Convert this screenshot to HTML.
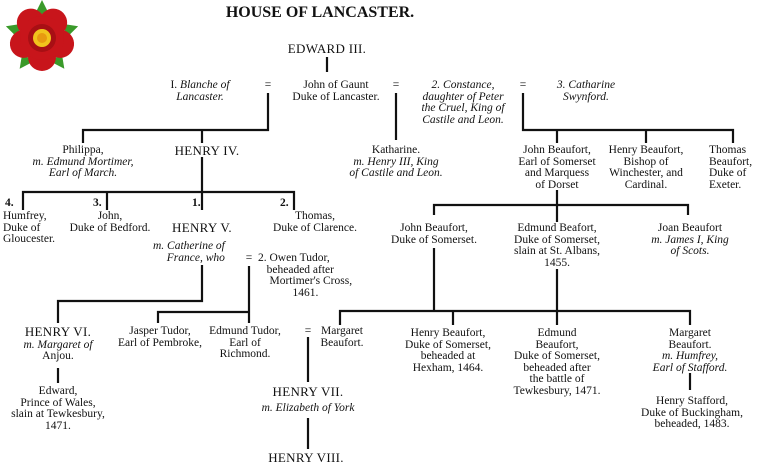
<!DOCTYPE html>
<html><head><meta charset="utf-8"><style>
body{margin:0;background:#fff;}
#c{position:relative;width:760px;height:466px;overflow:hidden;font-family:"Liberation Serif",serif;font-size:11.5px;line-height:11.5px;color:#111;}
.t{position:absolute;white-space:nowrap;text-align:center;transform:translateX(-50%);}
.l{position:absolute;white-space:nowrap;}
i{font-style:italic;}
.k{font-size:13px;letter-spacing:0.3px;}
svg{position:absolute;left:0;top:0;}
</style></head><body><div id="c">
<svg width="760" height="466">
<g transform="translate(42,38)">
<g fill="#3a9a2a"><polygon points="0,-38 -7,-24 7,-24" transform="rotate(0)"/><polygon points="0,-38 -7,-24 7,-24" transform="rotate(72)"/><polygon points="0,-38 -7,-24 7,-24" transform="rotate(144)"/><polygon points="0,-38 -7,-24 7,-24" transform="rotate(216)"/><polygon points="0,-38 -7,-24 7,-24" transform="rotate(288)"/></g>
<g fill="#c8151b"><circle cx="0" cy="-19" r="14" transform="rotate(36)"/><circle cx="0" cy="-19" r="14" transform="rotate(108)"/><circle cx="0" cy="-19" r="14" transform="rotate(180)"/><circle cx="0" cy="-19" r="14" transform="rotate(252)"/><circle cx="0" cy="-19" r="14" transform="rotate(324)"/><circle r="22"/></g>
<circle r="14" fill="#a80f14"/><circle r="9" fill="#f2c31c"/><circle r="5" fill="#e89a10"/>
</g>
<g stroke="#111" stroke-width="2.2" fill="none">
<path d="M327 57V72"/>
<path d="M268 93V130H83V143M202 130V143"/>
<path d="M202 157V192M23 210V192H294V210M107 192V210M202 192V210"/>
<path d="M396 93V140"/>
<path d="M523 93V130H733V143M557 130V143M646 130V143"/>
<path d="M557 190V205M434 215V205H688V215M557 205V222"/>
<path d="M202 265V301H58V323"/>
<path d="M249 266V312H158V323M249 312V323"/>
<path d="M434 248V311M340 325V311H690V325M453 311V325M557 269V325"/>
<path d="M308 337V382"/>
<path d="M58 368V383"/>
<path d="M308 418V449"/>
<path d="M690 373V390"/>
</g>
</svg>
<div class="t" style="left:320px;top:5px;font-size:16px;font-weight:bold;line-height:16px;">HOUSE OF LANCASTER.</div>
<div class="t k" style="left:327px;top:43px;">EDWARD III.</div>
<div class="t" style="left:200px;top:80px;">I. <i>Blanche of</i><br><i>Lancaster.</i></div>
<div class="t" style="left:268px;top:80px;">=</div>
<div class="t" style="left:336px;top:80px;">John of Gaunt<br>Duke of Lancaster.</div>
<div class="t" style="left:396px;top:80px;">=</div>
<div class="t" style="left:463px;top:80px;"><i>2. Constance,</i><br><i>daughter of Peter</i><br><i>the Cruel, King of</i><br><i>Castile and Leon.</i></div>
<div class="t" style="left:523px;top:80px;">=</div>
<div class="t" style="left:586px;top:80px;"><i>3. Catharine</i><br><i>Swynford.</i></div>
<div class="t" style="left:83px;top:145px;">Philippa,<br><i>m. Edmund Mortimer,</i><br><i>Earl of March.</i></div>
<div class="t k" style="left:207px;top:145px;">HENRY IV.</div>
<div class="t" style="left:396px;top:145px;">Katharine.<br><i>m. Henry III, King</i><br><i>of Castile and Leon.</i></div>
<div class="t" style="left:557px;top:145px;">John Beaufort,<br>Earl of Somerset<br>and Marquess<br>of Dorset</div>
<div class="t" style="left:646px;top:145px;">Henry Beaufort,<br>Bishop of<br>Winchester, and<br>Cardinal.</div>
<div class="l" style="left:709px;top:145px;">Thomas<br>Beaufort,<br>Duke of<br>Exeter.</div>
<div class="l" style="left:5px;top:198px;font-weight:bold;">4.</div>
<div class="l" style="left:3px;top:211px;">Humfrey,<br>Duke of<br>Gloucester.</div>
<div class="l" style="left:93px;top:198px;font-weight:bold;">3.</div>
<div class="t" style="left:110px;top:211px;">John,<br>Duke of Bedford.</div>
<div class="l" style="left:192px;top:198px;font-weight:bold;">1.</div>
<div class="t k" style="left:202px;top:222px;">HENRY V.</div>
<div class="l" style="left:280px;top:198px;font-weight:bold;">2.</div>
<div class="t" style="left:315px;top:211px;">Thomas,<br>Duke of Clarence.</div>
<div class="l" style="left:153px;top:241px;text-align:right;"><i>m. Catherine of</i><br><i>France, who</i></div>
<div class="t" style="left:249px;top:253px;">=</div>
<div class="l" style="left:258px;top:253px;">2. Owen Tudor,<br>&nbsp;&nbsp;&nbsp;beheaded after<br>&nbsp;&nbsp;&nbsp;&nbsp;Mortimer's Cross,<br>&nbsp;&nbsp;&nbsp;&nbsp;&nbsp;&nbsp;&nbsp;&nbsp;&nbsp;&nbsp;&nbsp;&nbsp;1461.</div>
<div class="t" style="left:434px;top:223px;">John Beaufort,<br>Duke of Somerset.</div>
<div class="t" style="left:557px;top:223px;">Edmund Beafort,<br>Duke of Somerset,<br>slain at St. Albans,<br>1455.</div>
<div class="t" style="left:690px;top:223px;">Joan Beaufort<br><i>m. James I, King</i><br><i>of Scots.</i></div>
<div class="t" style="left:58px;top:326px;"><span class="k">HENRY VI.</span><br><i>m. Margaret of</i><br>Anjou.</div>
<div class="t" style="left:160px;top:326px;">Jasper Tudor,<br>Earl of Pembroke,</div>
<div class="t" style="left:245px;top:326px;">Edmund Tudor,<br>Earl of<br>Richmond.</div>
<div class="t" style="left:308px;top:326px;">=</div>
<div class="t" style="left:342px;top:326px;">Margaret<br>Beaufort.</div>
<div class="t" style="left:448px;top:328px;">Henry Beaufort,<br>Duke of Somerset,<br>beheaded at<br>Hexham, 1464.</div>
<div class="t" style="left:557px;top:328px;">Edmund<br>Beaufort,<br>Duke of Somerset,<br>beheaded after<br>the battle of<br>Tewkesbury, 1471.</div>
<div class="t" style="left:690px;top:328px;">Margaret<br>Beaufort.<br><i>m. Humfrey,</i><br><i>Earl of Stafford.</i></div>
<div class="t" style="left:58px;top:386px;">Edward,<br>Prince of Wales,<br>slain at Tewkesbury,<br>1471.</div>
<div class="t k" style="left:308px;top:386px;">HENRY VII.</div>
<div class="t" style="left:308px;top:403px;"><i>m. Elizabeth of York</i></div>
<div class="t" style="left:692px;top:396px;">Henry Stafford,<br>Duke of Buckingham,<br>beheaded, 1483.</div>
<div class="t k" style="left:306px;top:452px;">HENRY VIII.</div>
</div></body></html>
